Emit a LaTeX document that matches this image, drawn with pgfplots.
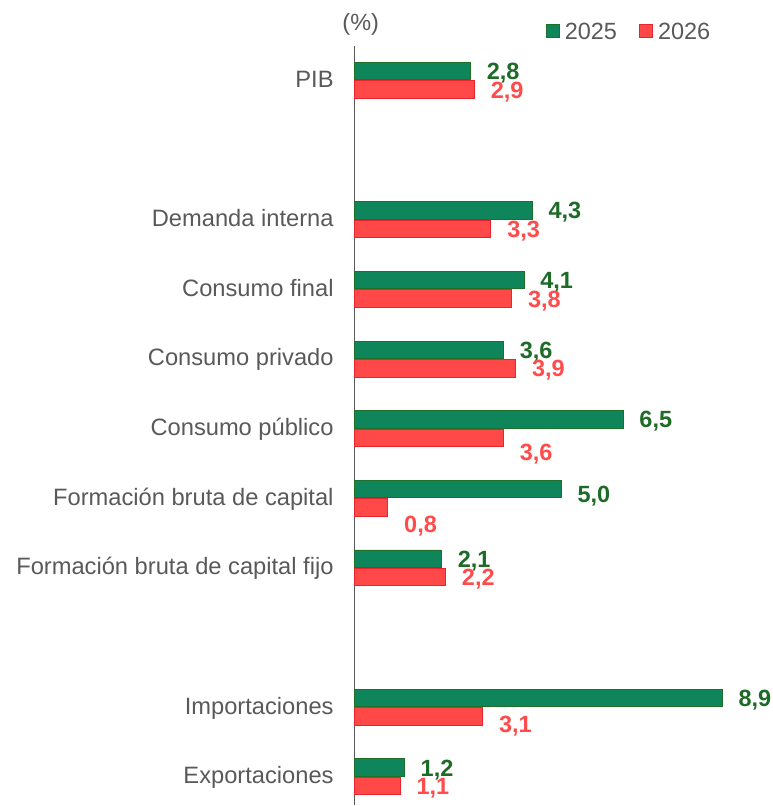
\documentclass[border=0pt]{standalone}
\usepackage{pgfplots}
\pgfplotsset{compat=1.18}
\usepackage{pgfplotstable}
\usepackage{fontspec}
\setmainfont{Liberation Sans}

\definecolor{gfill}{RGB}{14,133,90}
\definecolor{gline}{RGB}{31,110,42}
\definecolor{glab}{RGB}{30,107,39}
\definecolor{rfill}{RGB}{255,72,72}
\definecolor{rline}{RGB}{232,36,44}
\definecolor{rlab}{RGB}{255,75,75}
\definecolor{txt}{RGB}{89,89,89}

% y = row (PIB on top), v = growth in %, dy = nudge of the value label
\pgfplotstableread{
y  v   dy
10 2.8 0
8  4.3 0
7  4.1 0
6  3.6 0
5  6.5 0
4  5.0 -5
3  2.1 0
1  8.9 0
0  1.2 0
}\yrA
\pgfplotstableread{
y  v   dy
10 2.9 0
8  3.3 0
7  3.8 0
6  3.9 0
5  3.6 -14.5
4  0.8 -16
3  2.2 0
1  3.1 -8
0  1.1 0
}\yrB

\begin{document}
\begin{tikzpicture}
\begin{axis}[
  scale only axis,
  width=413pt, height=760.4pt,
  xmin=0, xmax=10, ymin=-0.41, ymax=10.5,
  axis x line=none, axis y line*=left,
  y axis line style={draw=txt, line width=1.1pt},
  xbar, bar width=17.5pt,
  xtick=\empty,
  ytick={0,1,3,4,5,6,7,8,10},
  yticklabels={Exportaciones,Importaciones,Formación bruta de capital fijo,
    Formación bruta de capital,Consumo público,Consumo privado,
    Consumo final,Demanda interna,PIB},
  major tick length=0pt,
  yticklabel style={font=\fontsize{23.7}{28}\selectfont, text=txt,
    inner sep=0pt, xshift=-21pt, text height=14pt, text depth=0pt},
  point meta=x,
  nodes near coords={\pgfmathprintnumber[assume math mode=true,fixed,fixed zerofill,precision=1,use comma]{\pgfplotspointmeta}},
  nodes near coords style={font=\fontsize{23.5}{28}\selectfont\bfseries,
    anchor=west, inner sep=0pt, xshift=16pt, text height=17pt, text depth=0pt},
  clip=false,
  legend columns=2,
  legend style={draw=none, at={(0.4625,1)}, anchor=west, yshift=14.6pt,
    inner sep=0pt, font=\fontsize{23.5}{28}\selectfont,
    text=txt, nodes={inner sep=0pt, text height=17pt, text depth=0pt},
    /tikz/every odd column/.append style={column sep=5pt},
    /tikz/every even column/.append style={column sep=22pt}},
  legend image code/.code={\draw[#1, line width=1pt] (0pt,-6.5pt) rectangle (13pt,6.5pt);},
]
\addplot[fill=gfill, draw=gline, line width=0.9pt, bar shift=9.25pt,
  visualization depends on={\thisrow{dy} \as \dy},
  every node near coord/.append style={text=glab, yshift=\dy pt}]
  table[x=v, y=y] {\yrA};
\addlegendentry{2025}
\addplot[fill=rfill, draw=rline, line width=0.9pt, bar shift=-9.25pt,
  visualization depends on={\thisrow{dy} \as \dy},
  every node near coord/.append style={text=rlab, yshift=\dy pt}]
  table[x=v, y=y] {\yrB};
\addlegendentry{2026}
\node[font=\fontsize{23.5}{28}\selectfont, text=txt, inner sep=0pt]
  at (rel axis cs:0,1) [xshift=6pt, yshift=21pt] {(\%)};
\coordinate (o) at (rel axis cs:0,0);
\end{axis}
\path (o) ++(-355pt,0pt) rectangle ++(773pt,806pt);
\end{tikzpicture}
\end{document}
